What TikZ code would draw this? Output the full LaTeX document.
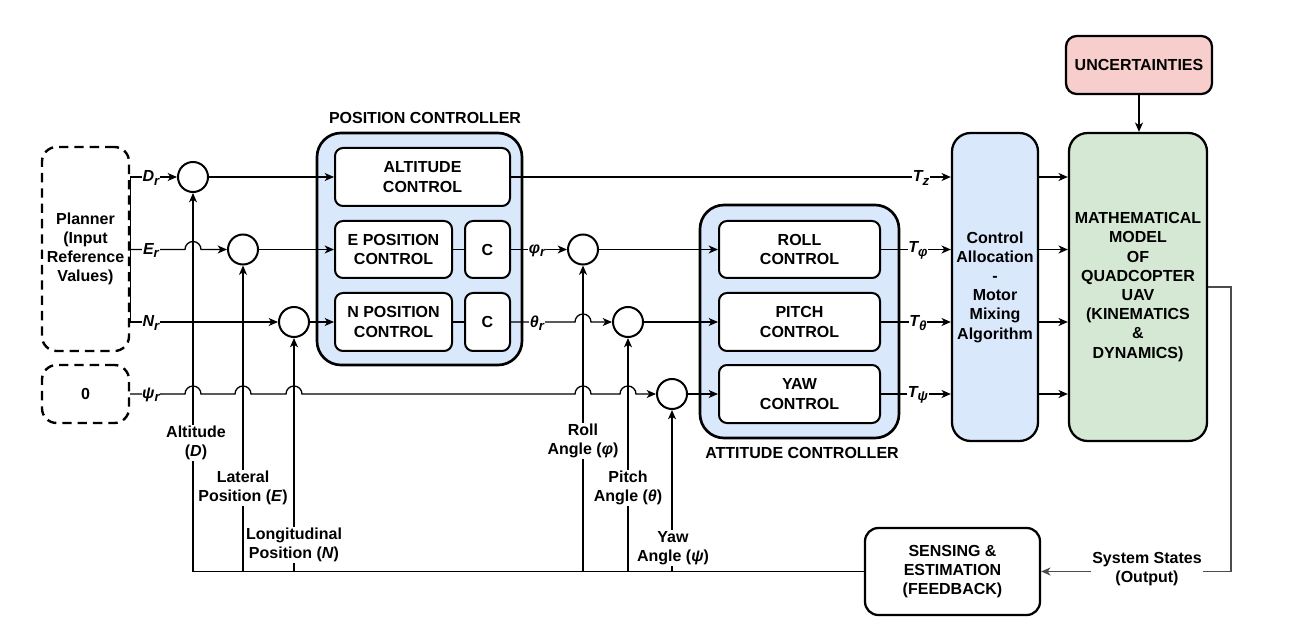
\documentclass[tikz,border=0pt]{standalone}
\usepackage{fontspec}
\setmainfont{Liberation Sans}
\usetikzlibrary{arrows.meta,calc}
\definecolor{blueF}{HTML}{DAE8FC}
\definecolor{greenF}{HTML}{D5E8D4}
\definecolor{redF}{HTML}{F8CECC}
\newcommand{\mysub}[1]{\raisebox{-2.6pt}{\fontsize{10}{10}\selectfont #1}}
\begin{document}
\begin{tikzpicture}[x=0.75pt,y=0.75pt,
  every node/.style={font=\fontsize{12}{14.4}\selectfont\bfseries},
  sz/.style 2 args={minimum width=#1*0.75pt, minimum height=#2*0.75pt},
  conn/.style={line width=1pt, draw=black},
  arr/.style={conn,-{Stealth[length=7pt,width=6pt,inset=2pt]}},
  inbox/.style={draw, line width=1.5pt, rounded corners=6pt, fill=white, inner sep=0pt, align=center},
  outbox/.style={draw, line width=2pt, rounded corners=18pt, fill=blueF, inner sep=0pt},
  bigbox/.style={draw, line width=1.7pt, rounded corners=14pt, inner sep=0pt, align=center},
  dashbox/.style={draw, line width=1.8pt, dash pattern=on 7pt off 4.5pt, rounded corners=11pt, inner sep=0pt, align=center},
  sumc/.style={circle, draw, line width=1.5pt, fill=white, minimum size=22.5pt, inner sep=0pt},
  sig/.style={fill=white, inner sep=0.5pt, font=\fontsize{12}{14.4}\selectfont\bfseries\itshape},
  fb/.style={fill=white, inner sep=1pt, align=center},
  outl/.style={line width=0.8pt, draw=black!70, -{Stealth[length=7pt,width=6pt,inset=2pt]}},
]
\useasboundingbox (0,0) rectangle (1289,-627);

% input boxes
\node[dashbox, sz={87}{204}] (plan) at (85.5,-249) {Planner\\(Input\\Reference\\Values)};
\node[dashbox, sz={87}{58}] (zero) at (85.5,-394) {0};

% position controller
\node[outbox, sz={205}{232}] (posc) at (419.5,-249) {};
\node (posl) at (425,-118) {POSITION CONTROLLER};
\node[inbox, sz={175}{58}] (alt) at (422.5,-177) {ALTITUDE\\CONTROL};
\node[inbox, sz={117}{57}] (epos) at (393.5,-249.5) {E POSITION\\CONTROL};
\node[inbox, sz={45}{57}] (c1) at (487.5,-249.5) {C};
\node[inbox, sz={117}{58}] (npos) at (393.5,-322) {N POSITION\\CONTROL};
\node[inbox, sz={45}{58}] (c2) at (487.5,-322) {C};

% attitude controller
\node[outbox, sz={199}{233}] (attc) at (799.5,-321.5) {};
\node (attl) at (802,-453) {ATTITUDE CONTROLLER};
\node[inbox, sz={161}{57}] (roll) at (799.5,-249.5) {ROLL\\CONTROL};
\node[inbox, sz={161}{58}] (pitch) at (799.5,-322) {PITCH\\CONTROL};
\node[inbox, sz={161}{58}] (yaw) at (799.5,-394) {YAW\\CONTROL};

% right blocks
\node[bigbox, fill=blueF, sz={86}{308}] (ca) at (995,-287) {Control\\Allocation\\-\\Motor\\Mixing\\Algorithm};
\node[bigbox, fill=greenF, sz={138}{308}] (mm) at (1138,-287) {MATHEMATICAL\\MODEL\\OF\\QUADCOPTER\\UAV\\(KINEMATICS\\\&\\DYNAMICS)};
\node[bigbox, fill=redF, rounded corners=8pt, sz={146}{58}] (unc) at (1139,-65) {UNCERTAINTIES};
\node[bigbox, fill=white, rounded corners=10pt, sz={175}{87}] (sens) at (952.5,-571.5) {SENSING \&\\ESTIMATION\\(FEEDBACK)};

% summing junctions
\node[sumc] (sD) at (193,-177) {};
\node[sumc] (sE) at (243,-249.5) {};
\node[sumc] (sN) at (294,-322) {};
\node[sumc] (sR) at (583,-249.5) {};
\node[sumc] (sP) at (628,-322) {};
\node[sumc] (sY) at (672,-394) {};

% feedback
\coordinate (oc) at (1231,-571.5);
\draw[outl] (mm.east) -| (oc) -- (sens.east);
\draw[conn, line width=1.3pt] (sens.west) -- (sD |- sens.west);
\foreach \s in {sD,sE,sN,sR,sP,sY}{
  \draw[arr] (\s |- sens.west) -- (\s.south);
}

% reference inputs
\draw[conn] (plan.east |- sD) -- (plan.east |- sN);
\draw[arr] (plan.east |- sD) -- (sD.west);
\draw[arr] (plan.east |- sE) -- ($(sD.center |- sE)+(-8,0)$) arc[start angle=180,end angle=0,radius=8] -- (sE.west);
\draw[arr] (plan.east |- sN) -- (sN.west);
\draw[arr] (zero.east) -- ($(sD.center |- zero.east)+(-8,0)$) arc[start angle=180,end angle=0,radius=8]
  -- ($(sE.center |- zero.east)+(-8,0)$) arc[start angle=180,end angle=0,radius=8]
  -- ($(sN.center |- zero.east)+(-8,0)$) arc[start angle=180,end angle=0,radius=8]
  -- ($(sR.center |- zero.east)+(-8,0)$) arc[start angle=180,end angle=0,radius=8]
  -- ($(sP.center |- zero.east)+(-8,0)$) arc[start angle=180,end angle=0,radius=8]
  -- (sY.west);

% position controller internals
\draw[arr] (sD.east) -- (alt.west);
\draw[arr] (sE.east) -- (sE.east -| epos.west);
\draw[arr] (sN.east) -- (sN.east -| npos.west);
\draw[conn] (epos.east) -- (c1.west);
\draw[conn] (npos.east) -- (c2.west);
\draw[arr] (c1.east) -- (sR.west);
\draw[arr] (c2.east) -- ($(sR.center |- c2.east)+(-8,0)$) arc[start angle=180,end angle=0,radius=8] -- (sP.west);

% attitude
\draw[arr] (sR.east) -- (sR.east -| roll.west);
\draw[arr] (sP.east) -- (sP.east -| pitch.west);
\draw[arr] (sY.east) -- (sY.east -| yaw.west);

% torques
\draw[arr] (alt.east) -- (alt.east -| ca.west);
\draw[arr] (roll.east) -- (roll.east -| ca.west);
\draw[arr] (pitch.east) -- (pitch.east -| ca.west);
\draw[arr] (yaw.east) -- (yaw.east -| ca.west);
\foreach \b in {alt,roll,pitch,yaw}{
  \draw[arr] (ca.east |- \b.east) -- (mm.west |- \b.east);
}
\draw[arr] (unc.south) -- (unc.south |- mm.north);

% signal labels
\node[sig] (lD) at (151,-178) {D\mysub{r}};
\node[sig] (lE) at (151,-250.5) {E\mysub{r}};
\node[sig] (lN) at (151,-323) {N\mysub{r}};
\node[sig] (lY) at (151,-395) {ψ\mysub{r}};
\node[sig] (lR) at (537,-250.5) {φ\mysub{r}};
\node[sig] (lP) at (537,-323) {θ\mysub{r}};
\node[sig] (lTz) at (921,-178) {T\mysub{z}};
\node[sig] (lTr) at (918,-250.5) {T\mysub{φ}};
\node[sig] (lTp) at (918,-323) {T\mysub{θ}};
\node[sig] (lTy) at (918,-395) {T\mysub{ψ}};

% feedback labels
\node[fb] (fD) at (196,-443) {Altitude\\(\textit{D})};
\node[fb] (fE) at (243,-488) {Lateral\\Position (\textit{E})};
\node[fb] (fN) at (294,-545) {Longitudinal\\Position (\textit{N})};
\node[fb] (fR) at (583,-441) {Roll\\Angle (\textit{φ})};
\node[fb] (fP) at (628,-488) {Pitch\\Angle (\textit{θ})};
\node[fb] (fY) at (673,-548) {Yaw\\Angle (\textit{ψ})};
\node[fb] (fS) at (1147,-569) {System States\\(Output)};
\end{tikzpicture}
\end{document}
